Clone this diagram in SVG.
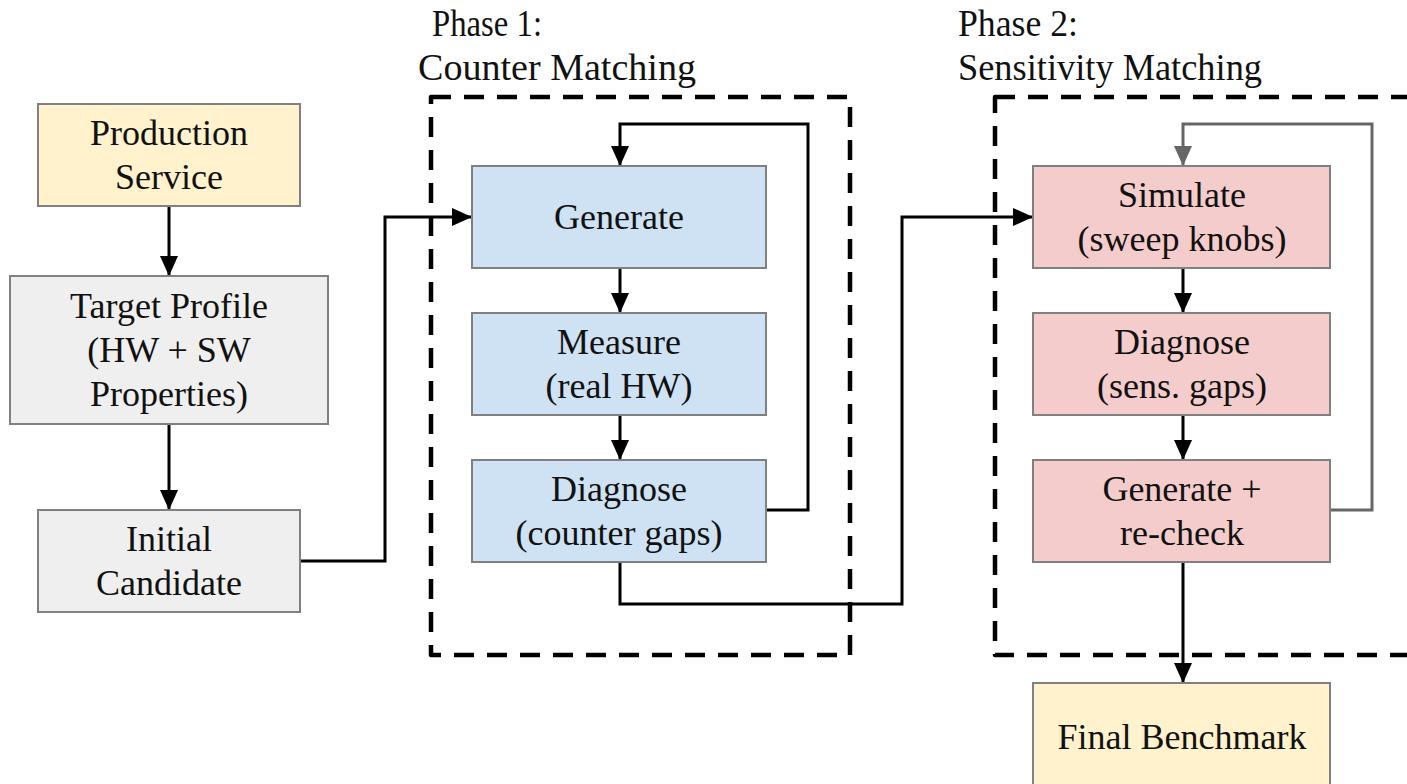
<svg xmlns="http://www.w3.org/2000/svg" width="1407" height="784" viewBox="0 0 1407 784">
  <defs>
    <marker id="arrow" viewBox="0 0 20 18" refX="19" refY="9" markerWidth="20" markerHeight="18" markerUnits="userSpaceOnUse" orient="auto">
      <path d="M0,0 L20,9 L0,18 z" fill="#000"/>
    </marker>
    <marker id="arrowGray" viewBox="0 0 20 18" refX="19" refY="9" markerWidth="20" markerHeight="18" markerUnits="userSpaceOnUse" orient="auto">
      <path d="M0,0 L20,9 L0,18 z" fill="#666"/>
    </marker>
  </defs>
  <style>
    .lbl { font-size: 36px; fill: #111; text-anchor: middle; }
    .title { font-size: 38px; fill: #111; text-anchor: start; }
    .box { stroke: #808080; stroke-width: 2; }
    .yellow { fill: #fff2cc; }
    .grey { fill: #efefef; }
    .blue { fill: #cfe2f3; }
    .pink { fill: #f4cccc; }
    .phase { fill: none; stroke: #000; stroke-width: 4.5; stroke-dasharray: 20 13; stroke-linejoin: round; }
    .edge { fill: none; stroke: #000; stroke-width: 3; }
    .edge-gray { fill: none; stroke: #666; stroke-width: 3; }
  </style>

  <g font-family="'Liberation Serif', 'DejaVu Serif', 'Times New Roman', serif">
  <!-- phase containers -->
  <g id="phase1">
    <text class="title" font-family="Liberation Serif" x="432" y="36" textLength="110" lengthAdjust="spacingAndGlyphs">Phase 1:</text>
    <text class="title" font-family="Liberation Serif" x="418" y="80" textLength="278" lengthAdjust="spacingAndGlyphs">Counter Matching</text>
    <rect class="phase" x="431" y="97" width="419" height="558"/>
  </g>
  <g id="phase2">
    <text class="title" font-family="Liberation Serif" x="958" y="36" textLength="120" lengthAdjust="spacingAndGlyphs">Phase 2:</text>
    <text class="title" font-family="Liberation Serif" x="958" y="80" textLength="304" lengthAdjust="spacingAndGlyphs">Sensitivity Matching</text>
    <rect class="phase" x="995" y="97" width="440" height="558"/>
  </g>

  <!-- connectors -->
  <g id="connectors">
    <path class="edge" marker-end="url(#arrow)" d="M169,206 L169,275"/>
    <path class="edge" marker-end="url(#arrow)" d="M169,424 L169,509"/>
    <path class="edge" marker-end="url(#arrow)" d="M300,561 L385,561 L385,217 L471,217"/>
    <path class="edge" marker-end="url(#arrow)" d="M620,268 L620,312"/>
    <path class="edge" marker-end="url(#arrow)" d="M620,415 L620,459"/>
    <path class="edge" marker-end="url(#arrow)" d="M766,510 L808,510 L808,124 L620,124 L620,165"/>
    <path class="edge" marker-end="url(#arrow)" d="M620,562 L620,604 L902,604 L902,217 L1032,217"/>
    <path class="edge" marker-end="url(#arrow)" d="M1183,268 L1183,312"/>
    <path class="edge" marker-end="url(#arrow)" d="M1183,415 L1183,459"/>
    <path class="edge-gray" marker-end="url(#arrowGray)" d="M1330,510 L1372,510 L1372,124 L1183,124 L1183,165"/>
    <path class="edge" marker-end="url(#arrow)" d="M1183,562 L1183,682"/>
  </g>

  <!-- nodes -->
  <g id="production-service">
    <rect class="box yellow" x="38" y="104" width="262" height="102"/>
    <text class="lbl" font-family="Liberation Serif" x="169" y="145">Production</text>
    <text class="lbl" font-family="Liberation Serif" x="169" y="189">Service</text>
  </g>
  <g id="target-profile">
    <rect class="box grey" x="10" y="276" width="318" height="148"/>
    <text class="lbl" font-family="Liberation Serif" x="169" y="318">Target Profile</text>
    <text class="lbl" font-family="Liberation Serif" x="169" y="362">(HW + SW</text>
    <text class="lbl" font-family="Liberation Serif" x="169" y="406">Properties)</text>
  </g>
  <g id="initial-candidate">
    <rect class="box grey" x="38" y="510" width="262" height="102"/>
    <text class="lbl" font-family="Liberation Serif" x="169" y="551">Initial</text>
    <text class="lbl" font-family="Liberation Serif" x="169" y="595">Candidate</text>
  </g>
  <g id="generate">
    <rect class="box blue" x="472" y="166" width="294" height="102"/>
    <text class="lbl" font-family="Liberation Serif" x="619" y="229">Generate</text>
  </g>
  <g id="measure">
    <rect class="box blue" x="472" y="313" width="294" height="102"/>
    <text class="lbl" font-family="Liberation Serif" x="619" y="354">Measure</text>
    <text class="lbl" font-family="Liberation Serif" x="619" y="398">(real HW)</text>
  </g>
  <g id="diagnose-counter">
    <rect class="box blue" x="472" y="460" width="294" height="102"/>
    <text class="lbl" font-family="Liberation Serif" x="619" y="501">Diagnose</text>
    <text class="lbl" font-family="Liberation Serif" x="619" y="545">(counter gaps)</text>
  </g>
  <g id="simulate">
    <rect class="box pink" x="1033" y="166" width="297" height="102"/>
    <text class="lbl" font-family="Liberation Serif" x="1182" y="207">Simulate</text>
    <text class="lbl" font-family="Liberation Serif" x="1182" y="251">(sweep knobs)</text>
  </g>
  <g id="diagnose-sens">
    <rect class="box pink" x="1033" y="313" width="297" height="102"/>
    <text class="lbl" font-family="Liberation Serif" x="1182" y="354">Diagnose</text>
    <text class="lbl" font-family="Liberation Serif" x="1182" y="398">(sens. gaps)</text>
  </g>
  <g id="generate-recheck">
    <rect class="box pink" x="1033" y="460" width="297" height="102"/>
    <text class="lbl" font-family="Liberation Serif" x="1182" y="501">Generate +</text>
    <text class="lbl" font-family="Liberation Serif" x="1182" y="545">re-check</text>
  </g>
  <g id="final-benchmark">
    <rect class="box yellow" x="1033" y="683" width="297" height="110"/>
    <text class="lbl" font-family="Liberation Serif" x="1182" y="749">Final Benchmark</text>
  </g>
  </g>
</svg>
